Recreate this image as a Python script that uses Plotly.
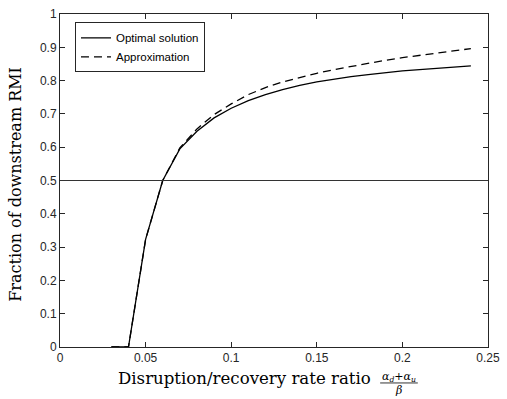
import plotly.graph_objects as go

ratio = [0.03, 0.04, 0.05, 0.06, 0.07, 0.08, 0.09, 0.10, 0.11, 0.12, 0.13,
         0.14, 0.15, 0.16, 0.17, 0.18, 0.19, 0.20, 0.21, 0.22, 0.23, 0.24]
optimal = [0.0, 0.0, 0.323, 0.5, 0.595, 0.648, 0.688, 0.717, 0.740, 0.758, 0.773,
           0.786, 0.796, 0.805, 0.812, 0.818, 0.824, 0.829, 0.833, 0.837, 0.841, 0.844]
approx = [0.0, 0.0, 0.323, 0.5, 0.598, 0.655, 0.698, 0.730, 0.758, 0.779, 0.796,
          0.810, 0.822, 0.833, 0.843, 0.852, 0.861, 0.869, 0.876, 0.883, 0.890, 0.896]
threshold = 0.5
x_ticks = [0, 0.05, 0.1, 0.15, 0.2, 0.25]
x_tick_text = ["0", "0.05", "0.1", "0.15", "0.2", "0.25"]
y_ticks = [0, 0.1, 0.2, 0.3, 0.4, 0.5, 0.6, 0.7, 0.8, 0.9, 1]
y_tick_text = ["0", "0.1", "0.2", "0.3", "0.4", "0.5", "0.6", "0.7", "0.8", "0.9", "1"]

fig = go.Figure()
fig.add_trace(go.Scatter(x=ratio, y=optimal, mode="lines", name="Optimal solution",
                         line=dict(color="black", width=1.3)))
fig.add_trace(go.Scatter(x=ratio, y=approx, mode="lines", name="Approximation",
                         line=dict(color="black", width=1.3, dash="8px,5px")))
fig.add_hline(y=threshold, line=dict(color="#333333", width=1.2))

axis_common = dict(showline=True, mirror="ticks", linecolor="#262626", linewidth=1,
                   ticks="inside", ticklen=5, tickcolor="#262626", showgrid=False,
                   zeroline=False, tickfont=dict(family="Liberation Sans, Arial", size=12, color="#262626"))

fig.update_layout(
    width=507, height=399,
    margin=dict(l=60, r=13, t=7, b=52),
    paper_bgcolor="white", plot_bgcolor="white",
    xaxis=dict(range=[0, 0.25], tickvals=x_ticks, ticktext=x_tick_text, **axis_common),
    yaxis=dict(range=[0, 1], tickvals=y_ticks, ticktext=y_tick_text, **axis_common),
    legend=dict(x=0.035, y=0.975, xanchor="left", yanchor="top",
                bgcolor="white", bordercolor="#262626", borderwidth=1,
                font=dict(family="Liberation Sans, Arial", size=11.5, color="black"),
                tracegroupgap=0, itemwidth=30),
    showlegend=True,
)

serif = "DejaVu Serif, Liberation Serif, serif"
# y-axis title
fig.add_annotation(text="Fraction of downstream RMI", xref="paper", yref="paper",
                   x=-0.103, y=0.49, xanchor="center", yanchor="middle", textangle=-90,
                   showarrow=False, font=dict(family=serif, size=16, color="black"))
# x-axis title
fig.add_annotation(text="Disruption/recovery rate ratio", xref="paper", yref="paper",
                   x=0.43, y=-0.06, xanchor="center", yanchor="top",
                   showarrow=False, font=dict(family=serif, size=16.6, color="black"))
fig.add_annotation(text="<i>α<sub>d</sub></i>+<i>α<sub>u</sub></i>", xref="paper", yref="paper",
                   x=0.792, y=-0.09, xanchor="center", yanchor="middle",
                   showarrow=False, font=dict(family=serif, size=11, color="black"))
fig.add_shape(type="line", xref="paper", yref="paper", x0=0.748, x1=0.836,
              y0=-0.108, y1=-0.108, line=dict(color="black", width=0.8))
fig.add_annotation(text="<i>β</i>", xref="paper", yref="paper",
                   x=0.792, y=-0.132, xanchor="center", yanchor="middle",
                   showarrow=False, font=dict(family=serif, size=11, color="black"))

fig.write_html("out.html", config={"displayModeBar": False},
               post_script="document.body.style.margin='0px';document.body.style.overflow='hidden';")
